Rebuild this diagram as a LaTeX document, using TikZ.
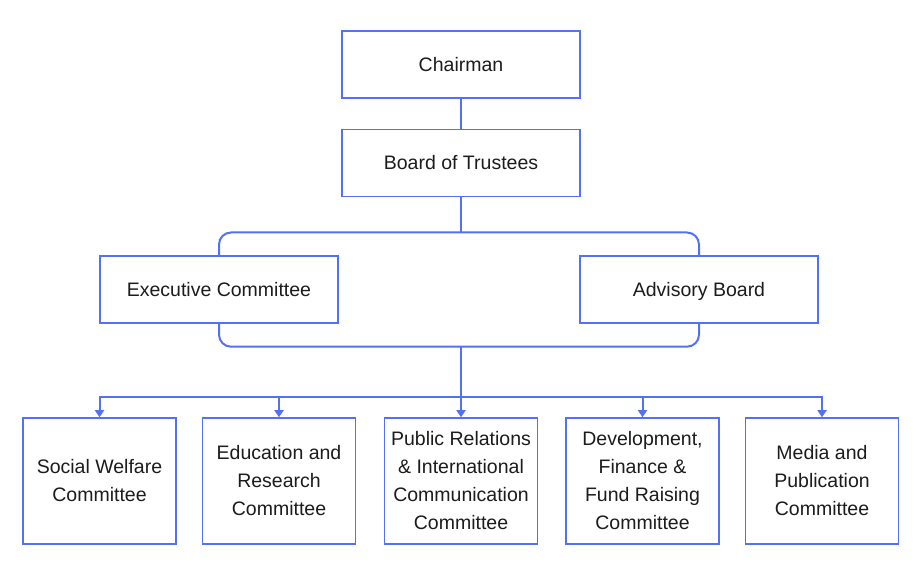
\documentclass[tikz,border=0pt]{standalone}
\usepackage{fontspec}
\setmainfont{Liberation Sans}
\usetikzlibrary{arrows.meta}
\definecolor{lineblue}{HTML}{5470F5}
\definecolor{txt}{HTML}{1C1C1C}

\begin{document}
\begin{tikzpicture}[x=1pt,y=1pt,
    box/.style={draw=lineblue, line width=1.5pt, fill=white, text=txt, align=center,
      inner sep=0pt, font=\fontsize{19.5}{28}\selectfont},
    topbox/.style={box, minimum width=238pt, minimum height=67pt, text height=14pt, text depth=0pt},
    combox/.style={box, minimum width=153pt, minimum height=126pt},
    link/.style={draw=lineblue, line width=2pt},
    tip/.style={link, -{Triangle[width=9pt,length=7pt]}}]
    \useasboundingbox (0,0) rectangle (920,575);
    \node[topbox] (chair) at (461,510.5) {Chairman};
    \node[topbox] (board) at (461,412) {Board of Trustees};
    \node[topbox] (exec) at (219,285.5) {Executive Committee};
    \node[topbox] (adv) at (699,285.5) {Advisory Board};
    \node[combox] (c1) at (99.5,94) {Social Welfare\\Committee};
    \node[combox] (c2) at (279,94) {Education and\\Research\\Committee};
    \node[combox] (c3) at (461,94) {Public Relations\\\& International\\Communication\\Committee};
    \node[combox] (c4) at (642.5,94) {Development,\\Finance \&\\Fund Raising\\Committee};
    \node[combox] (c5) at (822,94) {Media and\\Publication\\Committee};
    \coordinate (up) at (461,342.5);
    \coordinate (low) at (461,228.3);
    \coordinate (bus) at (461,178);
    \draw[link] (chair) -- (board);
    \draw[link] (board) -- (up);
    \draw[link, rounded corners=12pt] (exec.north) |- (up) -| (adv.north);
    \draw[link, rounded corners=12pt] (exec.south) |- (low) -| (adv.south);
    \draw[link] (low) -- (bus);
    \foreach \c in {c1,c2,c3,c4,c5}
      \draw[tip] (bus) -| (\c.north);
  \end{tikzpicture}
\end{document}
